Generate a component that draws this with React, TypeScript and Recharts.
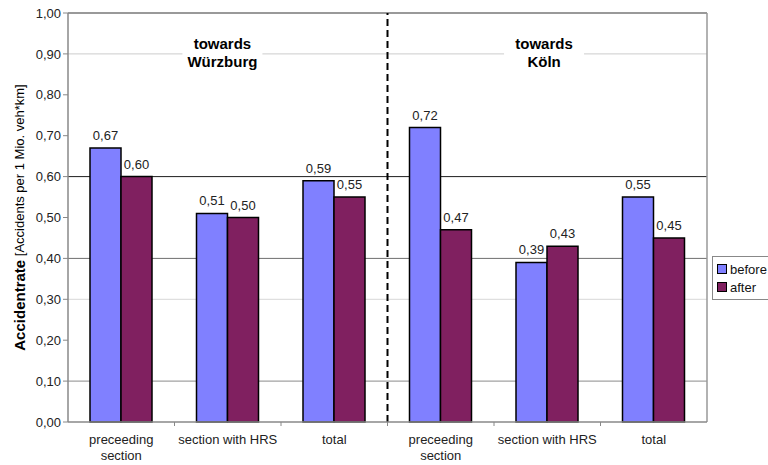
import React from 'react';
import { BarChart, Bar, XAxis, YAxis, ReferenceLine, ReferenceDot, LabelList, Legend } from 'recharts';

const categories = ['preceeding\nsection', 'section with HRS', 'total', 'preceeding\nsection', 'section with HRS', 'total'];
const before = [0.67, 0.51, 0.59, 0.72, 0.39, 0.55];
const after = [0.6, 0.5, 0.55, 0.47, 0.43, 0.45];
const yTicks = [0, 0.1, 0.2, 0.3, 0.4, 0.5, 0.6, 0.7, 0.8, 0.9, 1];
const directions = ['towards\nWürzburg', 'towards\nKöln'];
const seriesNames = ['before', 'after'];

// grid lines as they show in the picture (some are lost in the scan)
const gridValues = [0.1, 0.3, 0.4, 0.6, 0.9];
const gridColors = ['#8a8a8a', '#d8d8d8', '#6e6e6e', '#1e1e1e', '#cccccc'];
const directionX = [1.45, 4.47];

// pos = centre of each category on a 0..6 helper axis
const data = categories.map((c, i) => ({ name: c, pos: i + 0.5, before: before[i], after: after[i] }));
const colors = ['#8080ff', '#802060'];
const fmt = (v: number) => v.toFixed(2).replace('.', ',');

const CatTick = (props: any) => {
  const { x, y, payload, index } = props;
  const lines = String(payload.value).split('\n');
  return (
    <g>
      {index > 0 && (
        <line x1={x - payload.offset} x2={x - payload.offset} y1={y - 8} y2={y - 4} stroke="#888" />
      )}
      <text x={x} y={y + 14} textAnchor="middle" fontSize={13} fill="#222">
        {lines.map((l, i) => (
          <tspan key={i} x={x} dy={i === 0 ? 0 : 16}>{l}</tspan>
        ))}
      </text>
    </g>
  );
};

const YLabel = (props: any) => {
  const { viewBox } = props;
  const cx = viewBox.x + 19;
  const cy = viewBox.y + viewBox.height / 2;
  return (
    <text x={cx} y={cy} transform={`rotate(-90 ${cx} ${cy})`} textAnchor="middle" dominantBaseline="central" fill="#000">
      <tspan fontSize={15} fontWeight="bold">Accidentrate</tspan>
      <tspan fontSize={13}> [Accidents per 1 Mio. veh*km]</tspan>
    </text>
  );
};

const dirLabel = (text: string) => (props: any) => {
  const { viewBox } = props;
  const cx = viewBox.x + viewBox.width / 2;
  const cy = viewBox.y + viewBox.height / 2;
  const lines = text.split('\n');
  return (
    <g>
      <rect x={cx - 40} y={cy - 18} width={80} height={38} fill="#fff" />
      {lines.map((l, i) => (
        <text key={i} x={cx} y={cy - 5 + i * 18} textAnchor="middle" fontSize={15} fontWeight="bold" fill="#000">
          {l}
        </text>
      ))}
    </g>
  );
};

const LegendBox = () => (
  <div style={{ marginLeft: 5, width: 64, border: '1px solid #888', padding: '3px 0 3px 4px', background: '#fff' }}>
    {seriesNames.map((n, i) => (
      <div key={n} style={{ display: 'flex', alignItems: 'center', height: 18, fontSize: 13, color: '#111' }}>
        <span style={{ display: 'inline-block', width: 8, height: 8, background: colors[i], border: '1px solid #000', marginRight: 3 }} />
        {n}
      </div>
    ))}
  </div>
);

export default function App() {
  return (
    <div style={{ position: 'absolute', left: 0, top: 0, width: 768, height: 465, overflow: 'hidden', background: '#fff', fontFamily: '"Liberation Sans", Arial, sans-serif' }}>
      <BarChart width={768} height={465} data={data} margin={{ top: 13, right: 5, left: 0, bottom: 0 }} barGap={0} barSize={31}>
        <XAxis dataKey="name" tick={<CatTick />} tickLine={false} axisLine={{ stroke: '#888', strokeWidth: 1.5 }} height={43} interval={0} />
        <XAxis xAxisId="n" dataKey="pos" type="number" domain={[0, 6]} allowDataOverflow hide />
        <YAxis
          domain={[0, 1]}
          ticks={yTicks}
          tickFormatter={fmt}
          width={68}
          tickSize={5}
          tickLine={{ stroke: '#888' }}
          axisLine={{ stroke: '#888', strokeWidth: 1.5 }}
          tick={{ fontSize: 13, fill: '#222' }}
          label={{ content: <YLabel /> }}
        />
        {gridValues.map((v, i) => (
          <ReferenceLine key={v} y={v} stroke={gridColors[i]} strokeWidth={1} zIndex={-10} />
        ))}
        <ReferenceLine y={1} stroke="#999" strokeWidth={2} />
        <ReferenceLine xAxisId="n" x={6} stroke="#999" strokeWidth={1.5} ifOverflow="visible" />
        <ReferenceLine xAxisId="n" x={3} stroke="#000" strokeWidth={2} strokeDasharray="7 4" />
        {directions.map((d, i) => (
          <ReferenceDot key={d} xAxisId="n" x={directionX[i]} y={0.9} r={1} fill="none" stroke="none" label={{ content: dirLabel(d) }} />
        ))}
        <Legend layout="vertical" align="right" verticalAlign="middle" wrapperStyle={{ top: 256, width: 56 }} content={<LegendBox />} />
        <Bar dataKey="before" name="before" fill={colors[0]} stroke="#000" strokeWidth={1.5} isAnimationActive={false}>
          <LabelList dataKey="before" position="top" offset={8} formatter={(v: any) => fmt(Number(v))} fontSize={13} fill="#222" />
        </Bar>
        <Bar dataKey="after" name="after" fill={colors[1]} stroke="#000" strokeWidth={1.5} isAnimationActive={false}>
          <LabelList dataKey="after" position="top" offset={8} formatter={(v: any) => fmt(Number(v))} fontSize={13} fill="#222" />
        </Bar>
      </BarChart>
    </div>
  );
}
